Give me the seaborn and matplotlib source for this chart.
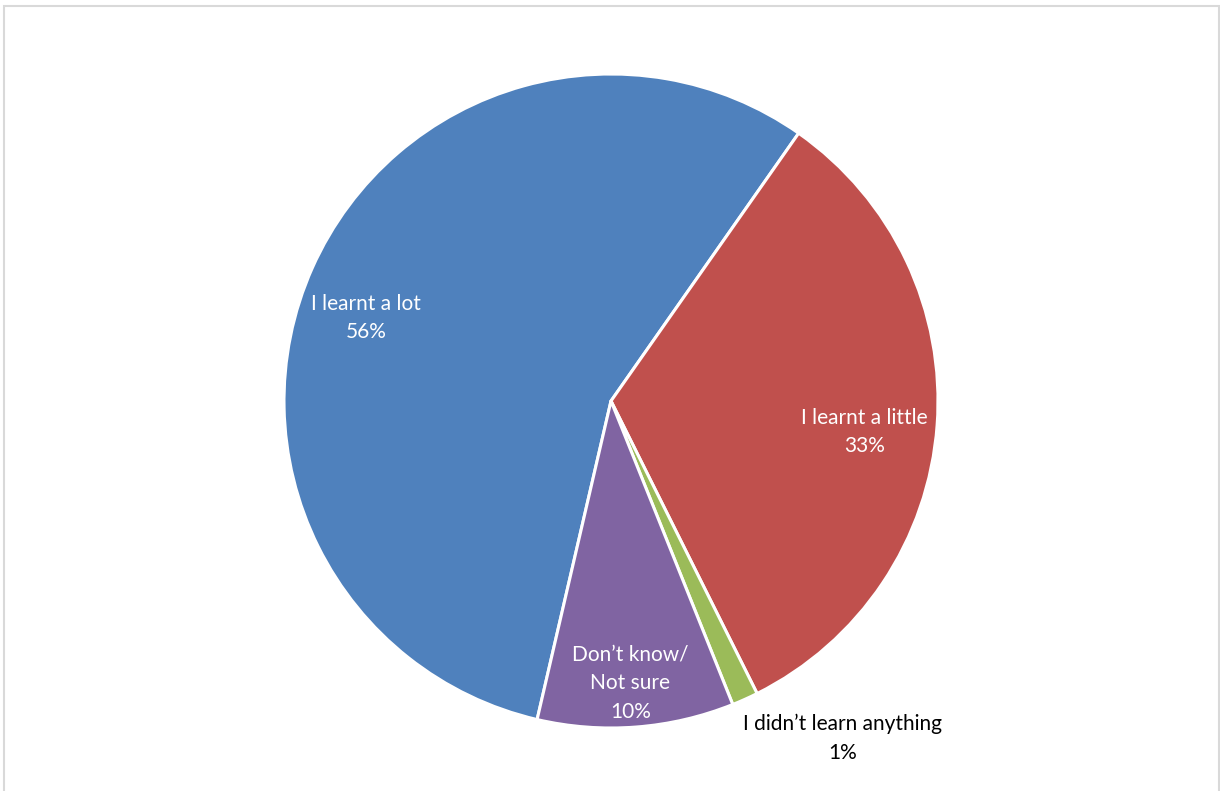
import numpy as np
import matplotlib
matplotlib.use("Agg")
import matplotlib.pyplot as plt
from matplotlib.patches import Rectangle
import seaborn as sns

# Survey responses (share of respondents, %)
categories = ["I learnt a lot", "I learnt a little", "I didn’t learn anything", "Don’t know/\nNot sure"]
shares = [56.1, 32.9, 1.3, 9.7]

# Slice colours and label styling
colors = sns.color_palette(["#4F81BD", "#C0504D", "#9BBB59", "#8064A2"])
label_colors = ["white", "white", "black", "white"]
# label anchor for each slice: (radius as fraction of pie radius, angle in degrees)
label_polar = [(0.791, 161.3), (0.780, -7.0), (1.251, -55.5), (0.864, -86.1)]

sns.set_theme(style="white")
plt.rcParams["font.family"] = ["Lato", "DejaVu Sans"]

W, H = 1220, 791
fig = plt.figure(figsize=(W / 100, H / 100), dpi=100)
fig.patch.set_facecolor("white")

cx, cy, R = 611, 401, 327
ax = fig.add_axes([(cx - R) / W, (H - cy - R) / H, 2 * R / W, 2 * R / H])

ax.pie(
    shares,
    colors=colors,
    startangle=-103.06,
    counterclock=False,
    radius=1.0,
    wedgeprops=dict(edgecolor="white", linewidth=2.2),
)
ax.set_xlim(-1, 1)
ax.set_ylim(-1, 1)
ax.set_aspect("equal")
ax.axis("off")

for name, val, col, (r, ang) in zip(categories, shares, label_colors, label_polar):
    a = np.deg2rad(ang)
    ax.text(
        r * np.cos(a), r * np.sin(a), f"{name}\n{val:.0f}%",
        ha="center", va="center", color=col, fontsize=15,
        linespacing=1.55, clip_on=False,
    )

# chart-area frame
fig.patches.append(Rectangle((4 / W, -0.02), 1215 / W, 1.02 - 5.5 / H,
                             transform=fig.transFigure, fill=False,
                             edgecolor="#D9D9D9", linewidth=1.5))

fig.savefig("out.png", dpi=100, facecolor="white")
